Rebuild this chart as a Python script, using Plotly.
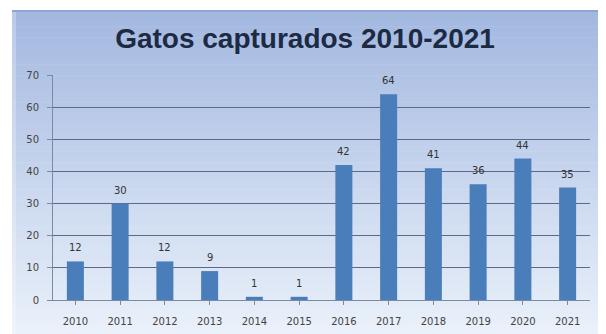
import plotly.graph_objects as go

years = ["2010", "2011", "2012", "2013", "2014", "2015", "2016", "2017", "2018", "2019", "2020", "2021"]
captured = [12, 30, 12, 9, 1, 1, 42, 64, 41, 36, 44, 35]
y_ticks = [0, 10, 20, 30, 40, 50, 60, 70]

# page body adds an 8px offset, so the figure is 8px smaller than the window
W, H = 598, 326
L, R, T, B = 45, 16, 67, 34
PW, PH = W - L - R, H - T - B


def px_x(p):
    return (p - L) / PW


def px_y(p):
    return (H - B - p) / PH


fig = go.Figure()
fig.add_trace(go.Bar(
    x=years, y=captured,
    marker=dict(color="#4a7ebb", line=dict(width=0)),
    width=0.38,
))

# data labels (category axis: position by category index)
annotations = [
    dict(x=i, y=v, xref="x", yref="y", text=str(v), showarrow=False,
         yanchor="bottom", yshift=6,
         font=dict(family="DejaVu Sans", size=10, color="#333333"))
    for i, v in enumerate(captured)
]

# gradient background of the chart frame (stacked strips), in pixel -> paper coords
fx0, fx1 = px_x(4), px_x(W + 2)
ftop, fbot = 2, H + 2
n = 60
c_top = (163, 184, 224)
c_bot = (234, 241, 250)
shapes = []
for i in range(n):
    t = i / (n - 1)
    c = tuple(round(c_top[k] + (c_bot[k] - c_top[k]) * t) for k in range(3))
    pa = ftop + (fbot - ftop) * i / n
    pb = ftop + (fbot - ftop) * (i + 1) / n
    shapes.append(dict(type="rect", xref="paper", yref="paper", x0=fx0, x1=fx1,
                       y0=px_y(pb + 0.5), y1=px_y(pa), fillcolor="rgb(%d,%d,%d)" % c,
                       line=dict(width=0), layer="below"))
# darker top edge and light left edge
shapes.append(dict(type="rect", xref="paper", yref="paper", x0=fx0, x1=fx1,
                   y0=px_y(4), y1=px_y(2), fillcolor="#8ea5d1",
                   line=dict(width=0), layer="below"))
shapes.append(dict(type="rect", xref="paper", yref="paper", x0=fx0, x1=px_x(8),
                   y0=px_y(H + 2), y1=px_y(4), fillcolor="rgba(255,255,255,0.25)",
                   line=dict(width=0), layer="below"))

fig.update_layout(
    width=W, height=H,
    margin=dict(l=L, r=R, t=T, b=B, autoexpand=False),
    paper_bgcolor="white", plot_bgcolor="rgba(0,0,0,0)",
    shapes=shapes,
    annotations=annotations,
    showlegend=False,
    title=dict(text="<b>Gatos capturados 2010-2021</b>", x=297 / W, xanchor="center",
               y=1 - 30 / H, yanchor="middle",
               font=dict(family="Liberation Sans", size=28, color="#1c2a44")),
    xaxis=dict(type="category", categoryorder="array", categoryarray=years,
               range=[-0.5, len(years) - 0.5], autorange=False, automargin=False,
               showgrid=False, showline=True, linecolor="#7a8aa4",
               ticks="outside", ticklen=4, tickcolor="#7a8aa4", ticklabelstandoff=8,
               tickfont=dict(family="DejaVu Sans", size=10, color="#444444")),
    yaxis=dict(range=[0, 70], tickvals=y_ticks, showgrid=True, gridcolor="#5b6b86",
               gridwidth=1, showline=True, linecolor="#7a8aa4", zeroline=False,
               automargin=False,
               ticks="outside", ticklen=5, tickcolor="#7a8aa4", ticklabelstandoff=6,
               tickfont=dict(family="DejaVu Sans", size=10, color="#444444")),
)

fig.write_html("out.html")
